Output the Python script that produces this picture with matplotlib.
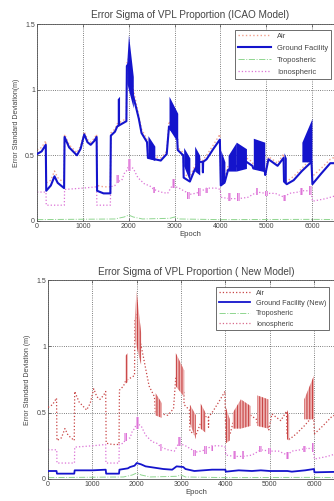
"""VPL error sigma proportion: ICAO model vs new model (two stacked panels)."""
import numpy as np
import matplotlib
matplotlib.use("Agg")
import matplotlib.pyplot as plt

# ---- data ----
# airborne error sigma, same in both panels
main_epoch = [0, 100, 190, 200, 300, 380, 450, 590, 600, 700, 870, 950, 1030, 1100, 1170, 1250,
              1300, 1310, 1450, 1600, 1610, 1700, 1750, 1850, 1950, 1960, 2000, 2050, 2100, 2150,
              2220, 2280, 2400, 2420, 2570, 2700, 2830, 2880, 3060, 3070, 3190, 3200, 3335, 3440,
              3550, 3615, 3620, 3625, 3700, 3850, 3990, 4010, 4100, 4170, 4570, 4700, 4720, 4970,
              4980, 5050, 5250, 5380, 5390, 5450, 5600, 5780, 5990, 6010, 6200, 6400, 6700]
air_sigma = [0.54, 0.56, 0.61, 0.29, 0.31, 0.38, 0.33, 0.29, 0.66, 0.58, 0.52, 0.57, 0.68, 0.62,
             0.60, 0.63, 0.66, 0.27, 0.26, 0.26, 0.67, 0.70, 0.74, 0.76, 0.78, 1.20, 1.24, 1.10,
             1.00, 0.92, 0.80, 0.70, 0.62, 0.50, 0.49, 0.48, 0.53, 0.76, 0.66, 0.56, 0.52, 0.36,
             0.33, 0.42, 0.47, 0.47, 0.39, 0.47, 0.50, 0.58, 0.66, 0.30, 0.33, 0.42, 0.48, 0.45,
             0.42, 0.40, 0.37, 0.49, 0.44, 0.51, 0.33, 0.30, 0.34, 0.40, 0.48, 0.34, 0.40, 0.47, 0.52]
gf_icao_sigma = [0.51, 0.53, 0.58, 0.23, 0.27, 0.34, 0.29, 0.25, 0.64, 0.56, 0.50, 0.55, 0.66, 0.60,
                 0.58, 0.61, 0.64, 0.23, 0.21, 0.21, 0.65, 0.68, 0.72, 0.74, 0.76, 1.18, 1.20, 1.05,
                 0.95, 0.88, 0.78, 0.67, 0.60, 0.48, 0.47, 0.46, 0.51, 0.72, 0.62, 0.54, 0.50, 0.33,
                 0.30, 0.39, 0.45, 0.45, 0.37, 0.45, 0.47, 0.55, 0.62, 0.27, 0.30, 0.39, 0.45, 0.42,
                 0.40, 0.38, 0.35, 0.47, 0.42, 0.48, 0.30, 0.28, 0.31, 0.38, 0.45, 0.28, 0.36, 0.44, 0.44]

# rapidly oscillating stretches: epoch start/end, lower and upper envelope at each end
band_x0 = [1750, 1960, 1995, 2420, 2880, 3200, 3440, 4010, 4170, 4350, 4720, 5390, 5780]
band_x1 = [1800, 1995, 2100, 2570, 3070, 3335, 3550, 4100, 4350, 4570, 4970, 5440, 6000]
band_lo0 = [0.72, 1.05, 1.00, 0.48, 0.70, 0.42, 0.38, 0.27, 0.38, 0.38, 0.40, 0.30, 0.45]
band_lo1 = [0.73, 1.00, 0.86, 0.46, 0.62, 0.30, 0.35, 0.29, 0.38, 0.40, 0.38, 0.29, 0.45]
band_hi0 = [0.93, 1.22, 1.42, 0.65, 0.95, 0.56, 0.57, 0.54, 0.50, 0.60, 0.63, 0.52, 0.60]
band_hi1 = [0.95, 1.42, 1.10, 0.57, 0.82, 0.48, 0.50, 0.45, 0.60, 0.55, 0.60, 0.48, 0.78]

iono_epoch = [0, 195, 200, 595, 600, 1000, 1300, 1305, 1600, 1605, 1700, 1750, 1850, 1900, 1950,
              2000, 2100, 2200, 2350, 2450, 2550, 2700, 2850, 2950, 3100, 3250, 3300, 3450, 3550,
              3700, 3900, 4000, 4010, 4200, 4400, 4600, 4800, 5000, 5200, 5400, 5500, 5700, 5800,
              5980, 6010, 6300, 6700]
iono_sigma = [0.22, 0.22, 0.12, 0.12, 0.24, 0.25, 0.26, 0.12, 0.12, 0.26, 0.27, 0.30, 0.31, 0.36,
              0.38, 0.42, 0.40, 0.33, 0.28, 0.27, 0.24, 0.22, 0.21, 0.27, 0.25, 0.22, 0.20, 0.21,
              0.22, 0.25, 0.25, 0.24, 0.18, 0.17, 0.17, 0.18, 0.22, 0.21, 0.21, 0.18, 0.21, 0.22,
              0.23, 0.23, 0.15, 0.17, 0.21]
iono_burst_x = [1750, 2010, 2550, 2970, 3300, 3550, 3700, 4200, 4400, 4800, 5000, 5400, 5780, 5975]
iono_burst_lo = [0.29, 0.38, 0.21, 0.25, 0.17, 0.19, 0.21, 0.15, 0.15, 0.20, 0.19, 0.15, 0.20, 0.20]
iono_burst_hi = [0.35, 0.47, 0.26, 0.32, 0.22, 0.25, 0.25, 0.21, 0.21, 0.25, 0.23, 0.20, 0.25, 0.27]

tropo_epoch = [0, 1700, 1900, 2000, 2100, 2300, 2900, 3000, 3100, 4000, 6000, 6700]
tropo_sigma = [0.01, 0.015, 0.03, 0.045, 0.03, 0.015, 0.02, 0.03, 0.015, 0.01, 0.012, 0.01]

gf_new_epoch = [0, 190, 200, 590, 600, 1000, 1300, 1310, 1600, 1610, 1800, 1850, 1950, 2000, 2100,
                2200, 2400, 2600, 2800, 2900, 3050, 3100, 3300, 3500, 3700, 4000, 4010, 4300, 4600,
                4800, 5000, 5400, 5500, 5800, 6000, 6010, 6700]
gf_new_sigma = [0.06, 0.06, 0.04, 0.04, 0.065, 0.065, 0.07, 0.04, 0.04, 0.07, 0.08, 0.09, 0.10, 0.12,
                0.11, 0.095, 0.085, 0.075, 0.07, 0.095, 0.09, 0.075, 0.06, 0.065, 0.07, 0.07, 0.055,
                0.065, 0.06, 0.065, 0.06, 0.06, 0.055, 0.065, 0.075, 0.05, 0.055]

x_ticks = [0, 1000, 2000, 3000, 4000, 5000, 6000]
y_ticks = [0, 0.5, 1, 1.5]
y_ticklabels = ["0", "0.5", "1", "1.5"]

BLUE = "#1414cc"
GREEN = "#8fd68f"
IONO = "#dc72d6"
RED = "#c84444"
TXT = "#444444"

plt.rcParams["font.family"] = ["Liberation Sans", "DejaVu Sans"]
plt.rcParams["hatch.linewidth"] = 0.8


def _bands(ax, color, face, hatch=None):
    for x0, x1, l0, l1, h0, h1 in zip(band_x0, band_x1, band_lo0, band_lo1, band_hi0, band_hi1):
        ax.fill_between([x0, x1], [l0, l1], [h0, h1], facecolor=face, edgecolor=color,
                        hatch=hatch, linewidth=0, zorder=3)


def _iono(ax):
    ax.plot(iono_epoch, iono_sigma, color=IONO, ls=":", lw=0.9, zorder=2)
    for x, lo, hi in zip(iono_burst_x, iono_burst_lo, iono_burst_hi):
        ax.fill_between([x - 30, x + 30], [lo, lo], [hi, hi], facecolor="#f0b8ec",
                        edgecolor=IONO, hatch="||||||", linewidth=0, zorder=2)


def _style(ax, title, ylabel):
    ax.set_xlim(0, 6700); ax.set_ylim(0, 1.5)
    ax.set_xticks(x_ticks); ax.set_yticks(y_ticks); ax.set_yticklabels(y_ticklabels)
    ax.tick_params(direction="in", top=True, right=True, labelsize=5, colors=TXT,
                   length=2.5, width=0.5, pad=1.5)
    ax.grid(True, ls=":", color="#555555", lw=0.6)
    for s in ax.spines.values():
        s.set_color("#555555"); s.set_linewidth(0.6)
    ax.set_title(title, fontsize=7.2, color=TXT, pad=4)
    ax.set_xlabel("Epoch", fontsize=5.6, color=TXT, labelpad=1)
    ax.set_ylabel(ylabel, fontsize=5, color=TXT, labelpad=4)


fig = plt.figure(figsize=(3.34, 5.01), dpi=100)

# ---- top: ICAO model ----
ax1 = fig.add_axes([0.111, 0.559, 0.919, 0.393])
ax1.plot(main_epoch, air_sigma, color="#f0a08c", ls=":", lw=1.0, label="Air", zorder=2)
ax1.plot(main_epoch, gf_icao_sigma, color=BLUE, lw=1.5, label="Ground Facility", zorder=4)
_bands(ax1, BLUE, BLUE)
ax1.plot(tropo_epoch, tropo_sigma, color=GREEN, ls="-.", lw=0.7, label="Troposheric", zorder=2)
_iono(ax1)
ax1.plot([], [], color=IONO, ls=":", lw=0.9, label="Ionospheric")
_style(ax1, "Error Sigma of VPL Proportion (ICAO Model)", "Error Standard Deviation(m)")
ax1.legend(loc="upper left", bbox_to_anchor=(0.692, 0.948), bbox_transform=fig.transFigure,
           fontsize=5.4, handlelength=4.4, labelspacing=0.62, borderpad=0.4, fancybox=False,
           edgecolor="#555555", framealpha=1, labelcolor=TXT).get_frame().set_linewidth(0.6)

# ---- bottom: new model ----
ax2 = fig.add_axes([0.144, 0.044, 0.889, 0.397])
ax2.plot(main_epoch, air_sigma, color=RED, ls=":", lw=0.9, label="Air", zorder=3)
_bands(ax2, RED, "#eeb4b4", hatch="||||||")
ax2.plot(gf_new_epoch, gf_new_sigma, color=BLUE, lw=1.3, label="Ground Facility (New)", zorder=4)
ax2.plot(tropo_epoch, tropo_sigma, color=GREEN, ls="-.", lw=0.7, label="Troposheric", zorder=2)
_iono(ax2)
ax2.plot([], [], color="#d86a8a", ls=":", lw=0.9, label="Ionospheric")
_style(ax2, "Error Sigma of VPL Proportion ( New Model)", "Error Standard Deviation (m)")
ax2.legend(loc="upper left", bbox_to_anchor=(0.635, 0.435), bbox_transform=fig.transFigure,
           fontsize=5.2, handlelength=4.4, labelspacing=0.45, borderpad=0.4, fancybox=False,
           edgecolor="#555555", framealpha=1, labelcolor=TXT).get_frame().set_linewidth(0.6)

fig.savefig("out.png", dpi=100, facecolor="white")
